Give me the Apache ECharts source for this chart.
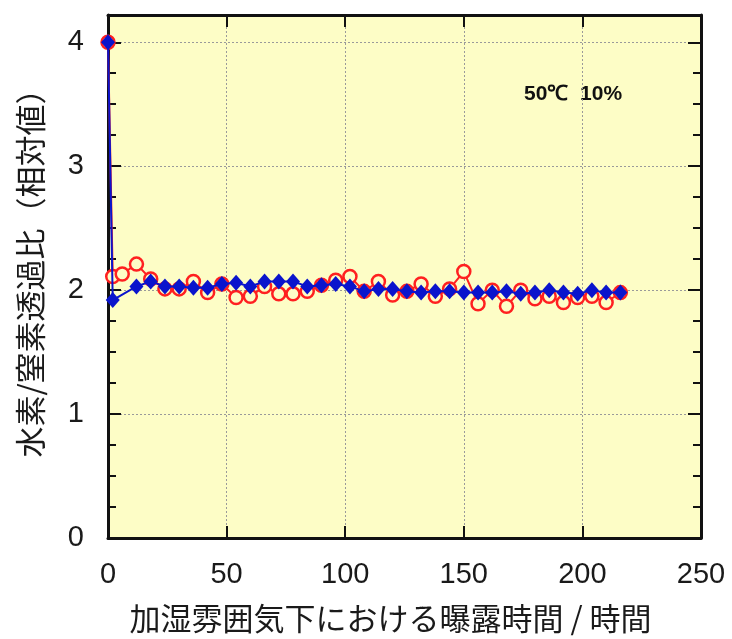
<!DOCTYPE html>
<html>
<head>
<meta charset="utf-8">
<script src="https://cdn.jsdelivr.net/npm/echarts@6/dist/echarts.min.js"></script>
<style>
  html, body { margin: 0; padding: 0; background: #fff; }
  #chart { width: 732px; height: 639px; }
</style>
</head>
<body>
<div id="chart"></div>
<script>
// exposure hours (every 6 h) and relative H2/N2 permeability ratio
const redHours = [0, 2, 6, 12, 18, 24, 30, 36, 42, 48, 54, 60, 66, 72, 78, 84, 90, 96, 102, 108,
    114, 120, 126, 132, 138, 144, 150, 156, 162, 168, 174, 180, 186, 192, 198, 204, 210, 216];
const redRatio = [4.0, 2.11, 2.13, 2.21, 2.09, 2.01, 2.01, 2.07, 1.98, 2.05, 1.94, 1.95, 2.03, 1.97, 1.97, 1.99, 2.04, 2.08, 2.11, 1.99,
    2.07, 1.96, 1.99, 2.05, 1.95, 2.01, 2.15, 1.89, 2.00, 1.87, 2.00, 1.93, 1.95, 1.90, 1.94, 1.95, 1.90, 1.98];

const blueHours = [0, 2, 12, 18, 24, 30, 36, 42, 48, 54, 60, 66, 72, 78, 84, 90, 96, 102, 108,
    114, 120, 126, 132, 138, 144, 150, 156, 162, 168, 174, 180, 186, 192, 198, 204, 210, 216];
const blueRatio = [4.0, 1.92, 2.03, 2.07, 2.03, 2.03, 2.02, 2.02, 2.05, 2.06, 2.03, 2.07, 2.07, 2.07, 2.03, 2.04, 2.05, 2.03, 1.99,
    2.01, 2.01, 1.99, 1.98, 1.99, 1.99, 1.98, 1.98, 1.98, 1.99, 1.97, 1.98, 2.00, 1.98, 1.97, 2.00, 1.98, 1.98];

const xTicks = [0, 250, 50];      // min, max, interval
const yTicks = [0, 4.22, 1];

const annotation = '50℃  10%';
const xName = '加湿雰囲気下における曝露時間 / 時間';
const yName = '水素/窒素透過比（相対値）';

const myChart = echarts.init(document.getElementById('chart'));

const frameLine = { show: true, onZero: false, lineStyle: { color: '#111', width: 3 } };
const labelFont = { fontFamily: 'Liberation Sans', fontSize: 29, color: '#1a1a1a' };
const gridDots = { show: true, lineStyle: { color: '#9a9a9a', type: [2, 2], width: 1 } };

const option = {
    animation: false,
    backgroundColor: '#ffffff',
    grid: {
        left: 108, top: 15, right: 31, bottom: 98,
        show: true, backgroundColor: '#fdfdc6', borderWidth: 0
    },
    xAxis: [
        {
            type: 'value', min: xTicks[0], max: xTicks[1], interval: xTicks[2],
            axisLine: frameLine,
            axisTick: { show: true, inside: true, length: 12, lineStyle: { color: '#111', width: 2 } },
            axisLabel: Object.assign({ margin: 22 }, labelFont),
            splitLine: gridDots,
            name: xName, nameLocation: 'middle', nameGap: 65,
            nameTextStyle: { fontFamily: 'Noto Sans CJK JP', fontSize: 31, color: '#1a1a1a', padding: [0, 28, 0, 0] }
        },
        {
            type: 'value', position: 'top', min: xTicks[0], max: xTicks[1], interval: xTicks[2],
            axisLine: frameLine,
            axisTick: { show: true, inside: true, length: 12, lineStyle: { color: '#111', width: 2 } },
            axisLabel: { show: false },
            splitLine: { show: false }
        }
    ],
    yAxis: [
        {
            type: 'value', min: yTicks[0], max: yTicks[1], interval: yTicks[2],
            axisLine: frameLine,
            axisTick: { show: true, inside: true, length: 13, lineStyle: { color: '#111', width: 2 } },
            minorTick: { show: true, splitNumber: 4, length: 8, lineStyle: { color: '#111', width: 2 } },
            axisLabel: Object.assign({
                margin: 24,
                formatter: v => (Math.abs(v - Math.round(v)) < 1e-6 ? String(Math.round(v)) : '')
            }, labelFont),
            splitLine: gridDots,
            name: yName, nameLocation: 'middle', nameGap: 62, nameRotate: 90,
            nameTextStyle: { fontFamily: 'Noto Sans CJK JP', fontSize: 31, color: '#1a1a1a', padding: [0, 0, 0, 22] }
        },
        {
            type: 'value', position: 'right', min: yTicks[0], max: yTicks[1], interval: yTicks[2],
            axisLine: frameLine,
            axisTick: { show: true, inside: true, length: 13, lineStyle: { color: '#111', width: 2 } },
            minorTick: { show: true, splitNumber: 4, length: 8, lineStyle: { color: '#111', width: 2 } },
            axisLabel: { show: false },
            splitLine: { show: false }
        }
    ],
    graphic: [
        {
            type: 'text', left: 524, top: 84,
            style: { text: annotation, fontFamily: 'Liberation Sans', fontWeight: 'bold', fontSize: 21, fill: '#111' }
        }
    ],
    series: [
        {
            name: 'red',
            type: 'line',
            data: redHours.map((h, i) => [h, redRatio[i]]),
            symbol: 'circle',
            symbolSize: 13,
            lineStyle: { color: '#ff2020', width: 2 },
            itemStyle: { color: '#fdfdc6', borderColor: '#ff2020', borderWidth: 2.5 },
            z: 2
        },
        {
            name: 'blue',
            type: 'line',
            data: blueHours.map((h, i) => [h, blueRatio[i]]),
            symbol: 'diamond',
            symbolSize: [14, 16],
            lineStyle: { color: '#0a14cc', width: 2 },
            itemStyle: { color: '#0a14cc' },
            z: 3
        }
    ]
};

myChart.setOption(option);
</script>
</body>
</html>
